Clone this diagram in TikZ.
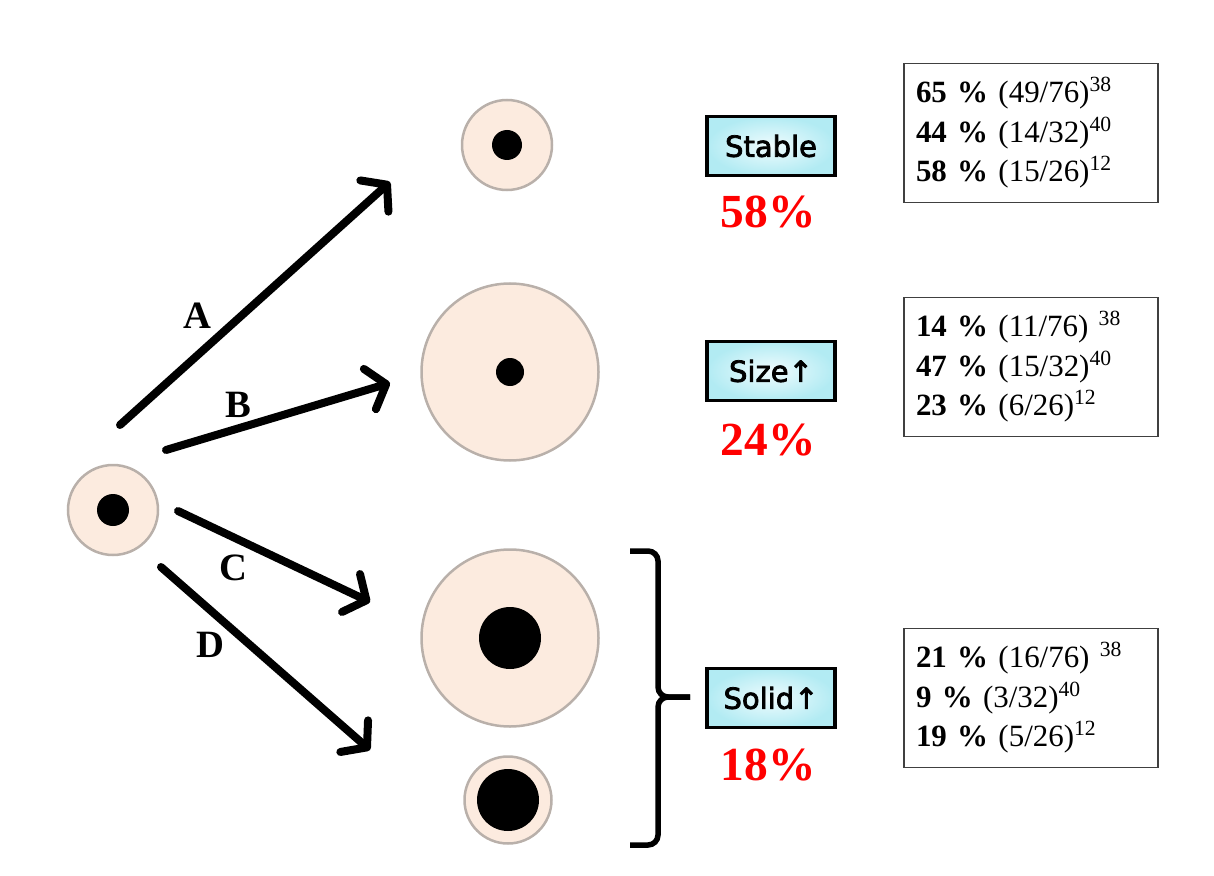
\documentclass[tikz,border=0pt]{standalone}
\usepackage{fontspec}
\setmainfont{Liberation Serif}
\newfontfamily\tagfont[FakeBold=2.6]{DejaVu Sans}
\usetikzlibrary{arrows.meta,positioning,calc}
\definecolor{cellfill}{HTML}{FCEBDF}
\definecolor{celledge}{HTML}{B9B0AA}
\definecolor{tagin}{HTML}{F0FCFE}
\definecolor{tagout}{HTML}{B2EBF3}
\definecolor{pctred}{HTML}{FF0000}
\tikzset{
  cell/.style={circle, draw=celledge, fill=cellfill, line width=0.5mm, minimum size=#1, inner sep=0pt},
  core/.style={circle, fill=black, minimum size=#1, inner sep=0pt},
  tagbox/.style={rectangle, draw=black, line width=0.75mm, inner color=tagin, outer color=tagout,
              minimum width=25.6mm, minimum height=11.8mm, font=\tagfont\fontsize{16.5}{18}\selectfont},
  pct/.style={text=pctred, font=\bfseries\fontsize{27}{30}\selectfont},
  refbox/.style={rectangle, draw=black!75, line width=0.3mm, text width=46mm, inner sep=2.4mm,
                 minimum height=27.8mm, align=left, font=\fontsize{17.6}{22.5}\selectfont},
  splitarr/.style={-{Straight Barb[length=3.4mm,width=8.4mm,line join=round,line cap=round]},
                   line width=1.6mm, line cap=round},
  pathlbl/.style={font=\bfseries\fontsize{22}{24}\selectfont},
}

\begin{document}
\begin{tikzpicture}[x=0.2mm, y=-0.2mm]
\useasboundingbox (0,0) rectangle (1214,876);
% cells
\node[cell=18mm] (src) at (113,510) {};
\node[core=6.4mm] (srccore) at (src) {};
\node[cell=18mm] (stable) at (507,145) {};
\node[core=6mm] (stablecore) at (stable) {};
\node[cell=35.4mm] (size) at (510,372) {};
\node[core=5.6mm] (sizecore) at (size) {};
\node[cell=35.4mm] (solidA) at (510,638) {};
\node[core=12.4mm] (solidAcore) at (solidA) {};
\node[cell=17.4mm] (solidB) at (508,800) {};
\node[core=12.4mm] (solidBcore) at (solidB) {};
% arrows
\coordinate (a0) at (120,425); \coordinate (a1) at (390,182);
\coordinate (b0) at (166,450); \coordinate (b1) at (390,383);
\coordinate (c0) at (178,511); \coordinate (c1) at (370,602);
\coordinate (d0) at (161,567); \coordinate (d1) at (370,750);
\draw[splitarr] (a0) -- (a1);
\draw[splitarr] (b0) -- (b1);
\draw[splitarr] (c0) -- (c1);
\draw[splitarr] (d0) -- (d1);
\node[pathlbl] (lblA) at (197,316) {A};
\node[pathlbl] (lblB) at (238,405) {B};
\node[pathlbl] (lblC) at (233,568) {C};
\node[pathlbl] (lblD) at (210,645) {D};
% brace
\draw[line width=1.1mm, rounded corners=2mm] (630,551) -- (658,551) -- (658,697) -- (690,697);
\draw[line width=1.1mm, rounded corners=2mm] (630,845) -- (658,845) -- (658,697) -- (690,697);
% tags
\node[tagbox] (tagStable) at (771,146) {Stable};
\node[tagbox] (tagSize) at (771,371) {Size↑};
\node[tagbox] (tagSolid) at (771,698) {Solid↑};
\node[pct] (pctStable) at (768,212) {58\%};
\node[pct] (pctSize) at (768,440) {24\%};
\node[pct] (pctSolid) at (768,765) {18\%};
% references
\node[refbox] (refStable) at (1031,133) {\textbf{65 \%} (49/76)\textsuperscript{38}\\ \textbf{44 \%} (14/32)\textsuperscript{40}\\ \textbf{58 \%} (15/26)\textsuperscript{12}};
\node[refbox] (refSize) at (1031,367) {\textbf{14 \%} (11/76) \textsuperscript{38}\\ \textbf{47 \%} (15/32)\textsuperscript{40}\\ \textbf{23 \%} (6/26)\textsuperscript{12}};
\node[refbox] (refSolid) at (1031,698) {\textbf{21 \%} (16/76) \textsuperscript{38}\\ \textbf{9 \%} (3/32)\textsuperscript{40}\\ \textbf{19 \%} (5/26)\textsuperscript{12}};
\end{tikzpicture}
\end{document}
